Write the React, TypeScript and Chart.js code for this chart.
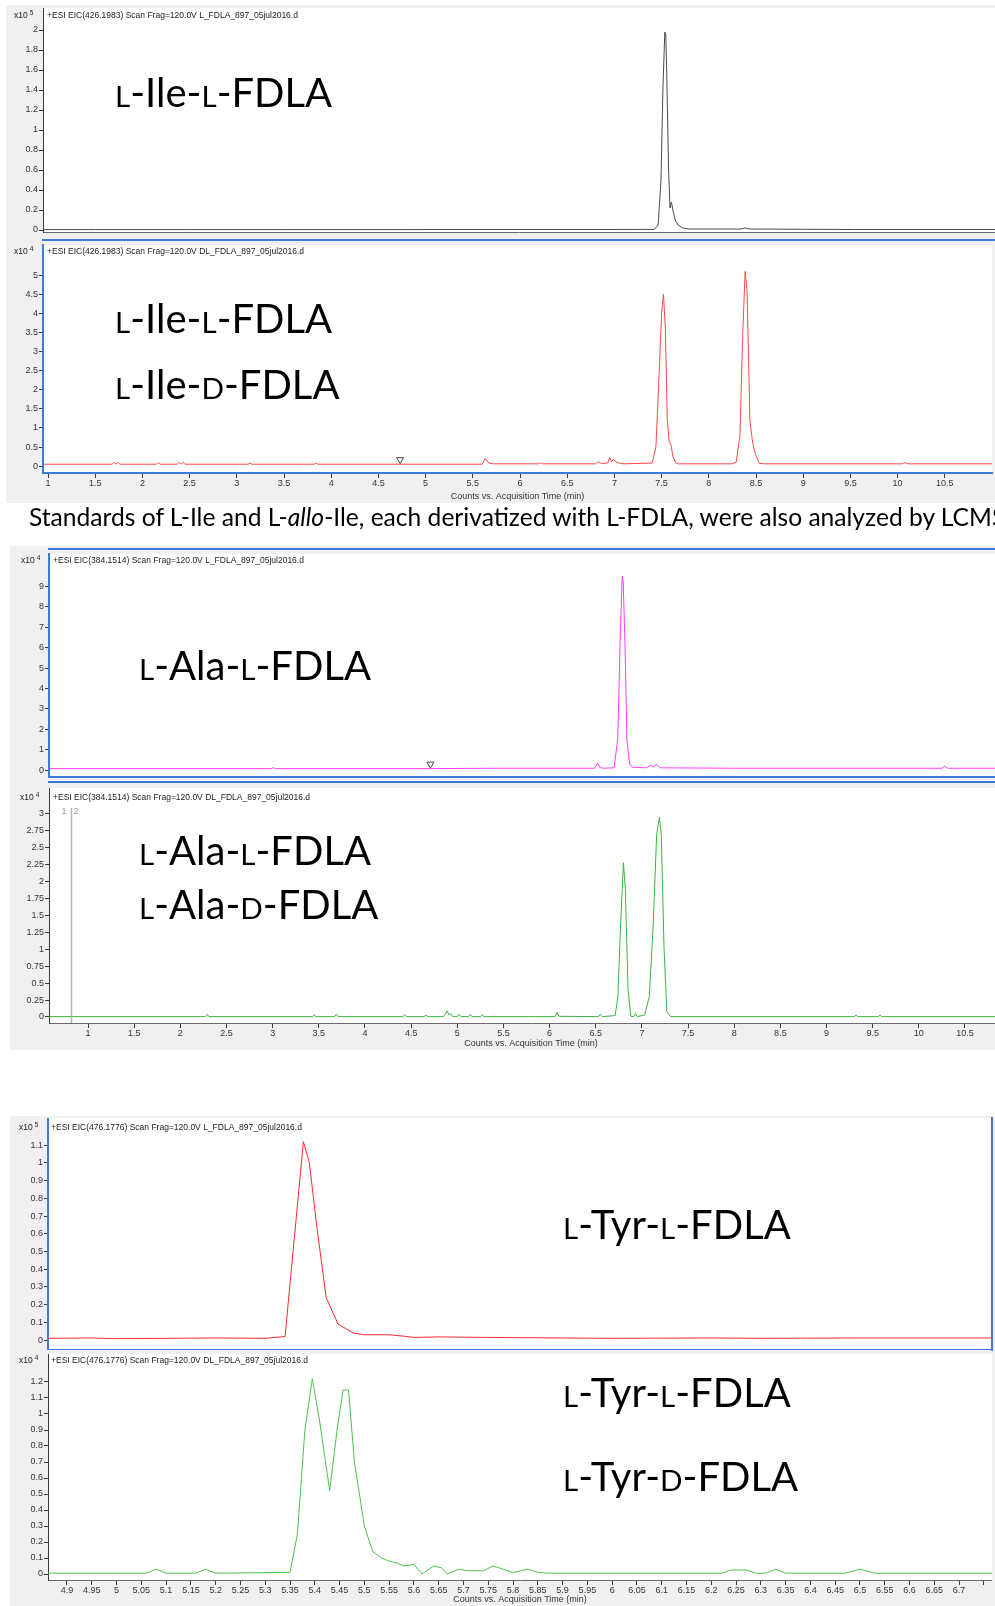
import React, { useEffect, useRef } from 'react';
import { Chart, registerables } from 'chart.js';
Chart.register(...registerables);

// ---------- DATA ----------
// Panel 1: L-Ile-L-FDLA, EIC 426.1983 (x10^5)
const ILE_L_TIME = [0.95, 1.5, 2.5, 3.5, 4.5, 5.5, 6.5, 7.39, 7.43, 7.46, 7.48, 7.5, 7.51, 7.52, 7.54, 7.555, 7.57, 7.585, 7.61, 7.64, 7.69, 7.76, 8.3, 8.35, 8.39, 9.5, 11.0];
const ILE_L_COUNTS = [0.004, 0.004, 0.004, 0.004, 0.004, 0.005, 0.005, 0.006, 0.05, 0.5, 1.4, 1.98, 1.95, 1.6, 0.6, 0.22, 0.28, 0.2, 0.1, 0.05, 0.02, 0.01, 0.01, 0.02, 0.01, 0.005, 0.005];

// Panel 2: DL-Ile standard, EIC 426.1983 (x10^4)
const ILE_DL_TIME = [0.95, 1.68, 1.7, 1.72, 1.74, 1.76, 1.78, 2.15, 2.17, 2.19, 2.37, 2.39, 2.41, 2.43, 2.45, 3.12, 3.14, 3.16, 3.82, 3.84, 3.86, 5.6, 5.63, 5.67, 5.72, 6.2, 6.22, 6.24, 6.8, 6.83, 6.86, 6.93, 6.95, 6.97, 6.99, 7.02, 7.05, 7.1, 7.4, 7.44, 7.47, 7.5, 7.52, 7.54, 7.56, 7.58, 7.6, 7.62, 7.65, 7.68, 8.24, 8.29, 8.33, 8.36, 8.385, 8.405, 8.435, 8.465, 8.495, 8.535, 8.59, 10.05, 10.08, 10.11, 11.0];
const ILE_DL_COUNTS = [0.05, 0.05, 0.1, 0.05, 0.1, 0.05, 0.05, 0.05, 0.1, 0.05, 0.05, 0.1, 0.05, 0.1, 0.05, 0.05, 0.08, 0.05, 0.05, 0.08, 0.05, 0.05, 0.2, 0.08, 0.06, 0.06, 0.09, 0.06, 0.06, 0.12, 0.07, 0.08, 0.22, 0.12, 0.18, 0.1, 0.08, 0.06, 0.08, 0.5, 2.2, 4.0, 4.5, 3.6, 1.2, 0.65, 0.55, 0.25, 0.08, 0.06, 0.06, 0.1, 0.8, 3.5, 5.1, 4.6, 1.2, 0.6, 0.3, 0.07, 0.06, 0.06, 0.09, 0.06, 0.06];
const ILE_DL_MARK_TIME = [4.73];
const ILE_DL_MARK_COUNTS = [0.17];

// Panel 3: L-Ala-L-FDLA, EIC 384.1514 (x10^4)
const ALA_L_TIME = [0.58, 3.0, 3.02, 3.04, 4.72, 5.5, 6.52, 6.55, 6.58, 6.62, 6.73, 6.77, 6.8, 6.82, 6.83, 6.85, 6.87, 6.9, 6.93, 7.08, 7.13, 7.16, 7.19, 7.23, 8.0, 10.3, 10.33, 10.36, 11.02];
const ALA_L_COUNTS = [0.08, 0.08, 0.13, 0.08, 0.08, 0.1, 0.1, 0.35, 0.12, 0.1, 0.12, 1.5, 7.0, 9.5, 9.2, 6.0, 1.5, 0.3, 0.15, 0.12, 0.25, 0.15, 0.3, 0.12, 0.1, 0.1, 0.2, 0.1, 0.1];
const ALA_L_MARK_TIME = [4.73];
const ALA_L_MARK_COUNTS = [0.3];

// Panel 4: DL-Ala standard, EIC 384.1514 (x10^4)
const ALA_DL_TIME = [0.58, 2.27, 2.29, 2.31, 3.43, 3.45, 3.47, 3.67, 3.69, 3.71, 4.41, 4.43, 4.45, 4.64, 4.66, 4.68, 4.85, 4.87, 4.89, 4.91, 4.93, 4.95, 5.0, 5.02, 5.04, 5.12, 5.14, 5.16, 5.25, 5.27, 5.29, 6.06, 6.08, 6.1, 6.53, 6.55, 6.57, 6.71, 6.74, 6.77, 6.8, 6.82, 6.85, 6.88, 6.91, 6.93, 6.95, 7.03, 7.08, 7.12, 7.16, 7.19, 7.21, 7.24, 7.27, 7.31, 9.3, 9.32, 9.34, 9.56, 9.58, 9.6, 11.02];
const ALA_DL_COUNTS = [0.005, 0.005, 0.04, 0.005, 0.005, 0.03, 0.005, 0.005, 0.04, 0.005, 0.005, 0.03, 0.005, 0.005, 0.03, 0.005, 0.005, 0.04, 0.09, 0.03, 0.05, 0.005, 0.005, 0.04, 0.005, 0.005, 0.04, 0.005, 0.005, 0.03, 0.005, 0.005, 0.07, 0.01, 0.005, 0.04, 0.005, 0.02, 0.3, 1.4, 2.28, 1.9, 0.4, 0.01, 0.005, 0.05, 0.005, 0.03, 0.3, 1.3, 2.7, 2.95, 2.7, 1.0, 0.08, 0.005, 0.005, 0.03, 0.005, 0.005, 0.03, 0.005, 0.005];
const ALA_DL_MARKER_TIME = 0.816;

// Panel 5: L-Tyr-L-FDLA, EIC 476.1776 (x10^5)
const TYR_L_TIME = [4.86, 4.95, 5.0, 5.1, 5.2, 5.3, 5.34, 5.377, 5.389, 5.405, 5.423, 5.447, 5.478, 5.5, 5.55, 5.58, 5.6, 5.65, 5.75, 5.9, 6.0, 6.2, 6.3, 6.5, 6.77];
const TYR_L_COUNTS = [0.01, 0.012, 0.008, 0.01, 0.012, 0.01, 0.02, 1.12, 1.0, 0.62, 0.24, 0.09, 0.04, 0.03, 0.03, 0.022, 0.015, 0.018, 0.015, 0.012, 0.01, 0.012, 0.01, 0.012, 0.012];

// Panel 6: DL-Tyr standard, EIC 476.1776 (x10^4)
const TYR_DL_TIME = [4.862, 5.06, 5.08, 5.1, 5.16, 5.18, 5.2, 5.35, 5.365, 5.38, 5.395, 5.41, 5.43, 5.445, 5.457, 5.468, 5.48, 5.5, 5.517, 5.535, 5.55, 5.565, 5.58, 5.6, 5.616, 5.64, 5.655, 5.667, 5.69, 5.71, 5.74, 5.76, 5.78, 5.8, 5.83, 5.85, 5.87, 6.22, 6.24, 6.27, 6.29, 6.31, 6.33, 6.35, 6.47, 6.5, 6.53, 6.767];
const TYR_DL_COUNTS = [0.005, 0.005, 0.03, 0.005, 0.005, 0.03, 0.005, 0.01, 0.25, 0.9, 1.22, 0.95, 0.52, 0.9, 1.15, 1.15, 0.7, 0.3, 0.14, 0.1, 0.08, 0.07, 0.05, 0.06, 0.0, 0.05, 0.04, 0.0, 0.03, 0.02, 0.02, 0.05, 0.03, 0.01, 0.03, 0.01, 0.005, 0.005, 0.025, 0.025, 0.005, 0.005, 0.03, 0.005, 0.005, 0.03, 0.005, 0.005];

// Tick values
const ILE_L_Y_TICKS = [0, 0.2, 0.4, 0.6, 0.8, 1, 1.2, 1.4, 1.6, 1.8, 2];
const ILE_DL_Y_TICKS = [0, 0.5, 1, 1.5, 2, 2.5, 3, 3.5, 4, 4.5, 5];
const ALA_L_Y_TICKS = [0, 1, 2, 3, 4, 5, 6, 7, 8, 9];
const ALA_DL_Y_TICKS = [0, 0.25, 0.5, 0.75, 1, 1.25, 1.5, 1.75, 2, 2.25, 2.5, 2.75, 3];
const TYR_L_Y_TICKS = [0, 0.1, 0.2, 0.3, 0.4, 0.5, 0.6, 0.7, 0.8, 0.9, 1, 1.1];
const TYR_DL_Y_TICKS = [0, 0.1, 0.2, 0.3, 0.4, 0.5, 0.6, 0.7, 0.8, 0.9, 1, 1.1, 1.2];
const WIDE_X_TICKS = [1, 1.5, 2, 2.5, 3, 3.5, 4, 4.5, 5, 5.5, 6, 6.5, 7, 7.5, 8, 8.5, 9, 9.5, 10, 10.5];
const WIDE_X_LABELS = ['1', '1.5', '2', '2.5', '3', '3.5', '4', '4.5', '5', '5.5', '6', '6.5', '7', '7.5', '8', '8.5', '9', '9.5', '10', '10.5'];
const TYR_X_TICKS = [4.9, 4.95, 5, 5.05, 5.1, 5.15, 5.2, 5.25, 5.3, 5.35, 5.4, 5.45, 5.5, 5.55, 5.6, 5.65, 5.7, 5.75, 5.8, 5.85, 5.9, 5.95, 6, 6.05, 6.1, 6.15, 6.2, 6.25, 6.3, 6.35, 6.4, 6.45, 6.5, 6.55, 6.6, 6.65, 6.7, 6.75];
const TYR_X_LABELS = ['4.9', '4.95', '5', '5.05', '5.1', '5.15', '5.2', '5.25', '5.3', '5.35', '5.4', '5.45', '5.5', '5.55', '5.6', '5.65', '5.7', '5.75', '5.8', '5.85', '5.9', '5.95', '6', '6.05', '6.1', '6.15', '6.2', '6.25', '6.3', '6.35', '6.4', '6.45', '6.5', '6.55', '6.6', '6.65', '6.7', ''];

const X_TITLE = 'Counts vs. Acquisition Time (min)';
const SENTENCE_A = 'Standards of L-Ile and L-';
const SENTENCE_ITALIC = 'allo';
const SENTENCE_B = '-Ile, each derivatized with L-FDLA, were also analyzed by LCMS';

// ---------- LAYOUT ----------
type Spec = {
  left: number; top: number; width: number; height: number;
  plotLeft: number; plotBottom: number;
  xMin: number; xMax: number; xTicks: number[]; xLabels: string[]; showX: boolean;
  yMin: number; yMax: number; yTicks: number[];
  time: number[]; counts: number[]; color: string;
  markT?: number[]; markC?: number[];
  vline?: number;
  blue?: boolean;
};

const TICK_FONT = { family: 'Liberation Sans, Arial, sans-serif', size: 9 };
const AXIS_COLOR = '#3a3a3a';
const BLUE = '#3d7bd9';

const bgPlugin = {
  id: 'plotbg',
  beforeDraw(chart: any) {
    const { ctx, chartArea } = chart;
    ctx.save();
    ctx.fillStyle = '#ffffff';
    ctx.fillRect(chartArea.left, chartArea.top, chartArea.right - chartArea.left, chartArea.bottom - chartArea.top);
    ctx.restore();
  },
};

const vlinePlugin = {
  id: 'vline',
  afterDatasetsDraw(chart: any, _a: any, opts: any) {
    if (opts == null || opts.value == null) return;
    const { ctx, chartArea } = chart;
    const x = Math.round(chart.scales.x.getPixelForValue(opts.value)) + 0.5;
    ctx.save();
    ctx.strokeStyle = '#b4b4b4';
    ctx.lineWidth = 1.5;
    ctx.beginPath();
    ctx.moveTo(x, chartArea.top + 20);
    ctx.lineTo(x, chartArea.bottom);
    ctx.stroke();
    ctx.fillStyle = '#9a9a9a';
    ctx.font = '9px Liberation Sans, Arial, sans-serif';
    ctx.textBaseline = 'middle';
    ctx.textAlign = 'right';
    ctx.fillText('1', x - 5, chartArea.top + 24);
    ctx.textAlign = 'left';
    ctx.fillText('2', x + 2, chartArea.top + 24);
    ctx.restore();
  },
};

function Panel({ s }: { s: Spec }) {
  const ref = useRef<HTMLCanvasElement>(null);
  useEffect(() => {
    const yW = s.plotLeft - s.left;
    const xH = s.top + s.height - s.plotBottom;
    const datasets: any[] = [
      {
        data: s.time.map((t, i) => ({ x: t, y: s.counts[i] })),
        borderColor: s.color,
        borderWidth: 1,
        pointRadius: 0,
        tension: 0,
        fill: false,
      },
    ];
    if (s.markT && s.markC) {
      datasets.push({
        data: s.markT.map((t, i) => ({ x: t, y: s.markC![i] })),
        showLine: false,
        pointStyle: 'triangle',
        rotation: 180,
        pointRadius: 4,
        borderColor: '#444',
        backgroundColor: '#ffffff',
        borderWidth: 1,
      });
    }
    const chart = new Chart(ref.current as HTMLCanvasElement, {
      type: 'line',
      data: { datasets },
      options: {
        animation: false,
        responsive: false,
        devicePixelRatio: 1,
        events: [],
        layout: { padding: 0 },
        plugins: {
          legend: { display: false },
          tooltip: { enabled: false },
          vline: { value: s.vline },
        } as any,
        scales: {
          x: {
            type: 'linear',
            bounds: 'data',
            min: s.xMin,
            max: s.xMax,
            afterBuildTicks: (sc: any) => { sc.ticks = s.xTicks.map((v) => ({ value: v })); },
            afterFit: (sc: any) => { sc.height = xH; sc.paddingLeft = 0; sc.paddingRight = 0; },
            ticks: {
              display: s.showX,
              autoSkip: false,
              maxRotation: 0,
              minRotation: 0,
              padding: 0,
              font: TICK_FONT,
              color: '#333',
              callback: (_v: any, i: number) => s.xLabels[i],
            },
            grid: { drawOnChartArea: false, drawTicks: s.showX, tickLength: 5, color: AXIS_COLOR, lineWidth: 1 },
            border: { display: true, color: s.blue ? BLUE : '#6a6a6a', width: s.blue ? 2 : 1 },
            title: {
              display: s.showX,
              text: X_TITLE,
              font: TICK_FONT,
              color: '#333',
              padding: { top: 0, bottom: 1 },
            },
          },
          y: {
            type: 'linear',
            bounds: 'data',
            min: s.yMin,
            max: s.yMax,
            afterBuildTicks: (sc: any) => { sc.ticks = s.yTicks.map((v) => ({ value: v })); },
            afterFit: (sc: any) => { sc.width = yW; sc.paddingTop = 0; sc.paddingBottom = 0; },
            ticks: {
              autoSkip: false,
              padding: 1,
              font: TICK_FONT,
              color: '#333',
              callback: (v: any) => String(Number(Number(v).toFixed(2))),
            },
            grid: { drawOnChartArea: false, drawTicks: true, tickLength: 4, color: AXIS_COLOR, lineWidth: 1 },
            border: { display: true, color: s.blue ? BLUE : AXIS_COLOR, width: s.blue ? 2 : 1 },
          },
        },
      } as any,
      plugins: [bgPlugin, vlinePlugin],
    });
    return () => chart.destroy();
  }, []);
  return (
    <canvas
      ref={ref}
      width={s.width}
      height={s.height}
      style={{ position: 'absolute', left: s.left, top: s.top, width: s.width, height: s.height }}
    />
  );
}

const PANELS: Spec[] = [
  {
    left: 6, top: 8, width: 989, height: 225, plotLeft: 43, plotBottom: 232,
    xMin: 0.947, xMax: 10.98, xTicks: WIDE_X_TICKS, xLabels: WIDE_X_LABELS, showX: false,
    yMin: -0.02, yMax: 2.22, yTicks: ILE_L_Y_TICKS,
    time: ILE_L_TIME, counts: ILE_L_COUNTS, color: '#4a4a4a',
  },
  {
    left: 6, top: 240, width: 991, height: 263, plotLeft: 43, plotBottom: 473,
    xMin: 0.947, xMax: 11.0, xTicks: WIDE_X_TICKS, xLabels: WIDE_X_LABELS, showX: true,
    yMin: -0.18, yMax: 5.79, yTicks: ILE_DL_Y_TICKS,
    time: ILE_DL_TIME, counts: ILE_DL_COUNTS, color: '#ff4a4a',
    markT: ILE_DL_MARK_TIME, markC: ILE_DL_MARK_COUNTS, blue: true,
  },
  {
    left: 10, top: 549, width: 1003, height: 233, plotLeft: 49, plotBottom: 782,
    xMin: 0.577, xMax: 11.02, xTicks: WIDE_X_TICKS, xLabels: WIDE_X_LABELS, showX: false,
    yMin: -0.33, yMax: 10.59, yTicks: ALA_L_Y_TICKS,
    time: ALA_L_TIME, counts: ALA_L_COUNTS, color: '#ff3cff',
    markT: ALA_L_MARK_TIME, markC: ALA_L_MARK_COUNTS, blue: true,
  },
  {
    left: 10, top: 788, width: 1003, height: 262, plotLeft: 49, plotBottom: 1023,
    xMin: 0.577, xMax: 11.02, xTicks: WIDE_X_TICKS, xLabels: WIDE_X_LABELS, showX: true,
    yMin: -0.089, yMax: 3.384, yTicks: ALA_DL_Y_TICKS,
    time: ALA_DL_TIME, counts: ALA_DL_COUNTS, color: '#3cb43c', vline: ALA_DL_MARKER_TIME,
  },
  {
    left: 10, top: 1118, width: 982, height: 232, plotLeft: 48, plotBottom: 1350,
    xMin: 4.8617, xMax: 6.7664, xTicks: TYR_X_TICKS, xLabels: TYR_X_LABELS, showX: false,
    yMin: -0.056, yMax: 1.254, yTicks: TYR_L_Y_TICKS,
    time: TYR_L_TIME, counts: TYR_L_COUNTS, color: '#ff2a2a', blue: true,
  },
  {
    left: 10, top: 1354, width: 982, height: 252, plotLeft: 48, plotBottom: 1580,
    xMin: 4.8617, xMax: 6.7664, xTicks: TYR_X_TICKS, xLabels: TYR_X_LABELS, showX: true,
    yMin: -0.0375, yMax: 1.375, yTicks: TYR_DL_Y_TICKS,
    time: TYR_DL_TIME, counts: TYR_DL_COUNTS, color: '#4cc44c',
  },
];

const HEADERS = [
  { x: 47, y: 15, mult: '5', text: '+ESI EIC(426.1983) Scan Frag=120.0V L_FDLA_897_05jul2016.d', mx: 14 },
  { x: 47, y: 251, mult: '4', text: '+ESI EIC(426.1983) Scan Frag=120.0V DL_FDLA_897_05jul2016.d', mx: 14 },
  { x: 53, y: 560, mult: '4', text: '+ESI EIC(384.1514) Scan Frag=120.0V L_FDLA_897_05jul2016.d', mx: 21 },
  { x: 53, y: 797, mult: '4', text: '+ESI EIC(384.1514) Scan Frag=120.0V DL_FDLA_897_05jul2016.d', mx: 20 },
  { x: 51, y: 1127, mult: '5', text: '+ESI EIC(476.1776) Scan Frag=120.0V L_FDLA_897_05jul2016.d', mx: 19 },
  { x: 51, y: 1360, mult: '4', text: '+ESI EIC(476.1776) Scan Frag=120.0V DL_FDLA_897_05jul2016.d', mx: 19 },
];

// [amino acid, FDLA configuration], with left x and baseline y
const LABELS: { aa: string; cfg: string; x: number; y: number }[] = [
  { aa: 'Ile', cfg: 'L', x: 115, y: 107 },
  { aa: 'Ile', cfg: 'L', x: 115, y: 333 },
  { aa: 'Ile', cfg: 'D', x: 115, y: 399 },
  { aa: 'Ala', cfg: 'L', x: 139, y: 680 },
  { aa: 'Ala', cfg: 'L', x: 139, y: 865 },
  { aa: 'Ala', cfg: 'D', x: 139, y: 919 },
  { aa: 'Tyr', cfg: 'L', x: 563, y: 1239 },
  { aa: 'Tyr', cfg: 'L', x: 563, y: 1407 },
  { aa: 'Tyr', cfg: 'D', x: 563, y: 1491 },
];

const LABEL_FONT = 'Lato, "Open Sans", sans-serif';
const LABEL_SIZE = 40;

function BigLabel({ aa, cfg, x, y }: { aa: string; cfg: string; x: number; y: number }) {
  const sc = { fontSize: '0.74em' };
  return (
    <div
      style={{
        position: 'absolute', left: x, top: y - 0.887 * LABEL_SIZE, height: LABEL_SIZE * 1.2,
        fontFamily: LABEL_FONT, fontSize: LABEL_SIZE, lineHeight: `${LABEL_SIZE}px`, color: '#000', whiteSpace: 'nowrap',
      }}
    >
      <span style={sc}>L</span>-{aa}-<span style={sc}>{cfg}</span>-FDLA
    </div>
  );
}

export default function App() {
  useEffect(() => {
    document.body.style.margin = '0';
  }, []);
  const small: React.CSSProperties = {
    position: 'absolute', fontFamily: 'Liberation Sans, Arial, sans-serif', fontSize: 8.5, color: '#222', whiteSpace: 'nowrap', lineHeight: '10px',
  };
  return (
    <div style={{ position: 'absolute', left: 0, top: 0, width: 995, height: 1606, overflow: 'hidden', background: '#fff' }}>
      {/* grey panel backgrounds */}
      <div style={{ position: 'absolute', left: 6, top: 5, width: 995, height: 498, background: '#f0f0f0' }} />
      <div style={{ position: 'absolute', left: 10, top: 546, width: 995, height: 504, background: '#f0f0f0' }} />
      <div style={{ position: 'absolute', left: 10, top: 1116, width: 995, height: 490, background: '#f0f0f0' }} />
      {PANELS.map((s, i) => <Panel key={i} s={s} />)}
      {/* selection borders */}
      <div style={{ position: 'absolute', left: 42, top: 239, width: 960, height: 0, borderTop: `2px solid ${BLUE}` }} />
      <div style={{ position: 'absolute', left: 48, top: 548, width: 960, height: 0, borderTop: `2px solid ${BLUE}` }} />
      <div style={{ position: 'absolute', left: 48, top: 781, width: 960, height: 0, borderTop: `2px solid ${BLUE}` }} />
      <div style={{ position: 'absolute', left: 991, top: 1117, width: 0, height: 234, borderLeft: `2px solid ${BLUE}` }} />
      {HEADERS.map((h, i) => (
        <React.Fragment key={i}>
          <div style={{ ...small, left: h.x, top: h.y - 5 }}>{h.text}</div>
          <div style={{ ...small, left: h.mx, top: h.y - 5 }}>
            x10<span style={{ fontSize: 6.5, position: 'relative', top: -3, marginLeft: 2 }}>{h.mult}</span>
          </div>
        </React.Fragment>
      ))}
      {LABELS.map((l, i) => <BigLabel key={i} {...l} />)}
      <div
        style={{
          position: 'absolute', left: 29, top: 504, fontFamily: LABEL_FONT, fontSize: 24.6, lineHeight: '26px', color: '#000', whiteSpace: 'nowrap',
        }}
      >
        {SENTENCE_A}<i>{SENTENCE_ITALIC}</i>{SENTENCE_B}
      </div>
    </div>
  );
}
